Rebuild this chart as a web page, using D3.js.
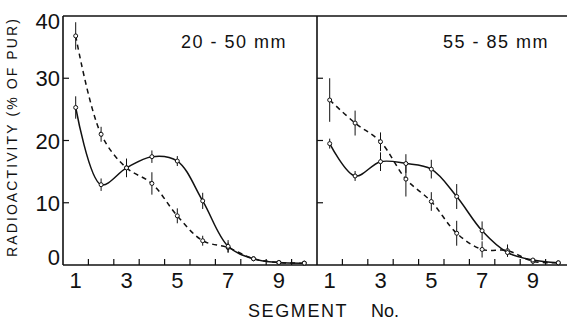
<!DOCTYPE html>
<html>
<head>
<meta charset="UTF-8">
<title>Radioactivity by segment</title>
<style>
body { margin: 0; background: #fff; }
svg text { font-family: "Liberation Sans", Arial, sans-serif; fill: #111; }
.frame line { stroke: #111; stroke-width: 1.6px; }
.ticks line { stroke: #111; stroke-width: 1.2px; }
.curve { fill: none; stroke: #111; stroke-width: 1.5px; }
.curve.dashed { stroke-dasharray: 5, 4; }
.err { stroke: #111; stroke-width: 1px; }
.dot { fill: #fff; stroke: #111; stroke-width: 1px; }
</style>
</head>
<body>
<svg></svg>
<script src="https://d3js.org/d3.v7.min.js"></script>
<script>

// segment numbers along the worm
var segments = [1, 2, 3, 4, 5, 6, 7, 8, 9, 10];

// 20 - 50 mm
var leftSolid      = [25.3, 12.9, 15.6, 17.4, 16.7, 10.3, 3.0, 1.0, 0.4, 0.3];
var leftSolidErr   = [1.8, 1.0, 1.2, 1.0, 0.8, 1.3, 1.0, 0.3, 0.3, 0.3];
var leftDashed     = [36.8, 21.0, 15.6, 13.1, 7.9, 3.9, 2.8, 1.0, 0.4, 0.3];
var leftDashedErr  = [2.2, 1.2, 1.5, 1.8, 1.2, 0.8, 0.8, 0.3, 0.3, 0.3];

// 55 - 85 mm
var rightSolid     = [19.5, 14.3, 16.6, 16.3, 15.4, 11.0, 5.5, 2.0, 0.8, 0.35];
var rightSolidErr  = [0.8, 0.8, 1.5, 1.5, 1.5, 2.0, 1.5, 0.5, 0.3, 0.2];
var rightDashed    = [26.5, 22.8, 19.8, 13.8, 10.2, 5.1, 2.5, 2.3, 0.6, 0.35];
var rightDashedErr = [3.5, 2.0, 1.5, 2.8, 1.5, 2.0, 1.3, 1.0, 0.5, 0.2];

var panelTitles = ["20 - 50 mm", "55 - 85 mm"];
var yTicks = [0, 10, 20, 30, 40];
var xLabelTicks = [1, 3, 5, 7, 9];
var xMinorTicks = [1.5, 2.5, 3.5, 4.5, 5.5, 6.5, 7.5, 8.5, 9.5];

var width = 567, height = 323;
var plotTop = 16, plotBottom = 265;
var panelLeft = [63, 317];
var panelWidth = 254;

var svg = d3.select("svg").attr("width", width).attr("height", height);

var y = d3.scaleLinear().domain([0, 40]).range([plotBottom, plotTop]);

var panels = [
  { title: panelTitles[0], solid: leftSolid, solidErr: leftSolidErr, dashed: leftDashed, dashedErr: leftDashedErr, titleX: 181 },
  { title: panelTitles[1], solid: rightSolid, solidErr: rightSolidErr, dashed: rightDashed, dashedErr: rightDashedErr, titleX: 443 }
];

// frame
var frame = svg.append("g").attr("class", "frame");
frame.append("line").attr("x1", panelLeft[0]).attr("x2", width).attr("y1", plotTop).attr("y2", plotTop);
frame.append("line").attr("x1", panelLeft[0]).attr("x2", width).attr("y1", plotBottom).attr("y2", plotBottom);
panelLeft.forEach(function (px) {
  frame.append("line").attr("x1", px).attr("x2", px).attr("y1", plotTop).attr("y2", plotBottom);
});

var line = d3.line()
  .x(function (d) { return d.x; })
  .y(function (d) { return d.y; })
  .curve(d3.curveCatmullRom.alpha(0.5));

panels.forEach(function (p, k) {
  var x = d3.scaleLinear().domain([0.5, 10.5]).range([panelLeft[k], panelLeft[k] + panelWidth]);
  var g = svg.append("g");

  // inward ticks on x axis
  g.append("g").attr("class", "ticks")
    .selectAll("line").data(xMinorTicks).enter().append("line")
    .attr("x1", function (d) { return x(d); }).attr("x2", function (d) { return x(d); })
    .attr("y1", plotBottom).attr("y2", plotBottom - 6);

  // inward ticks on y axis
  g.append("g").attr("class", "ticks")
    .selectAll("line").data([10, 20, 30]).enter().append("line")
    .attr("x1", panelLeft[k]).attr("x2", panelLeft[k] + 6)
    .attr("y1", function (d) { return y(d); }).attr("y2", function (d) { return y(d); });

  // x labels
  g.selectAll("text.xl").data(xLabelTicks).enter().append("text")
    .attr("class", "xl")
    .attr("x", function (d) { return x(d); })
    .attr("y", 288)
    .attr("text-anchor", "middle")
    .style("font-size", "22px")
    .text(function (d) { return d; });

  // panel title
  g.append("text")
    .attr("x", p.titleX).attr("y", 48)
    .style("font-size", "18px")
    .style("letter-spacing", "1.5px")
    .text(p.title);

  [["dashed", p.dashed, p.dashedErr], ["solid", p.solid, p.solidErr]].forEach(function (s) {
    var pts = segments.map(function (seg, i) {
      return { x: x(seg), y: y(s[1][i]), lo: y(s[1][i] - s[2][i]), hi: y(s[1][i] + s[2][i]) };
    });

    g.append("path").attr("class", "curve " + s[0]).attr("d", line(pts));

    g.selectAll("line.err-" + s[0]).data(pts).enter().append("line")
      .attr("class", "err err-" + s[0])
      .attr("x1", function (d) { return d.x; }).attr("x2", function (d) { return d.x; })
      .attr("y1", function (d) { return d.lo; }).attr("y2", function (d) { return d.hi; });

    g.selectAll("circle.dot-" + s[0]).data(pts).enter().append("circle")
      .attr("class", "dot dot-" + s[0])
      .attr("cx", function (d) { return d.x; })
      .attr("cy", function (d) { return d.y; })
      .attr("r", 2);
  });
});

// y labels, left panel only
svg.selectAll("text.yl").data(yTicks).enter().append("text")
  .attr("class", "yl")
  .attr("x", 60)
  .attr("y", function (d) {
    if (d === 0) return y(0);
    if (d === 40) return y(40) + 13;
    return y(d) + 8;
  })
  .attr("text-anchor", "end")
  .style("font-size", "22px")
  .text(function (d) { return d; });

// axis titles
svg.append("text")
  .attr("x", 248).attr("y", 317)
  .style("font-size", "18px")
  .style("letter-spacing", "1.6px")
  .text("SEGMENT");
svg.append("text")
  .attr("x", 371).attr("y", 317)
  .style("font-size", "18px")
  .text("No.");

svg.append("text")
  .attr("transform", "translate(17,137) rotate(-90)")
  .attr("text-anchor", "middle")
  .style("font-size", "14px")
  .style("letter-spacing", "2.1px")
  .text("RADIOACTIVITY (% OF PUR)");

</script>
</body>
</html>
